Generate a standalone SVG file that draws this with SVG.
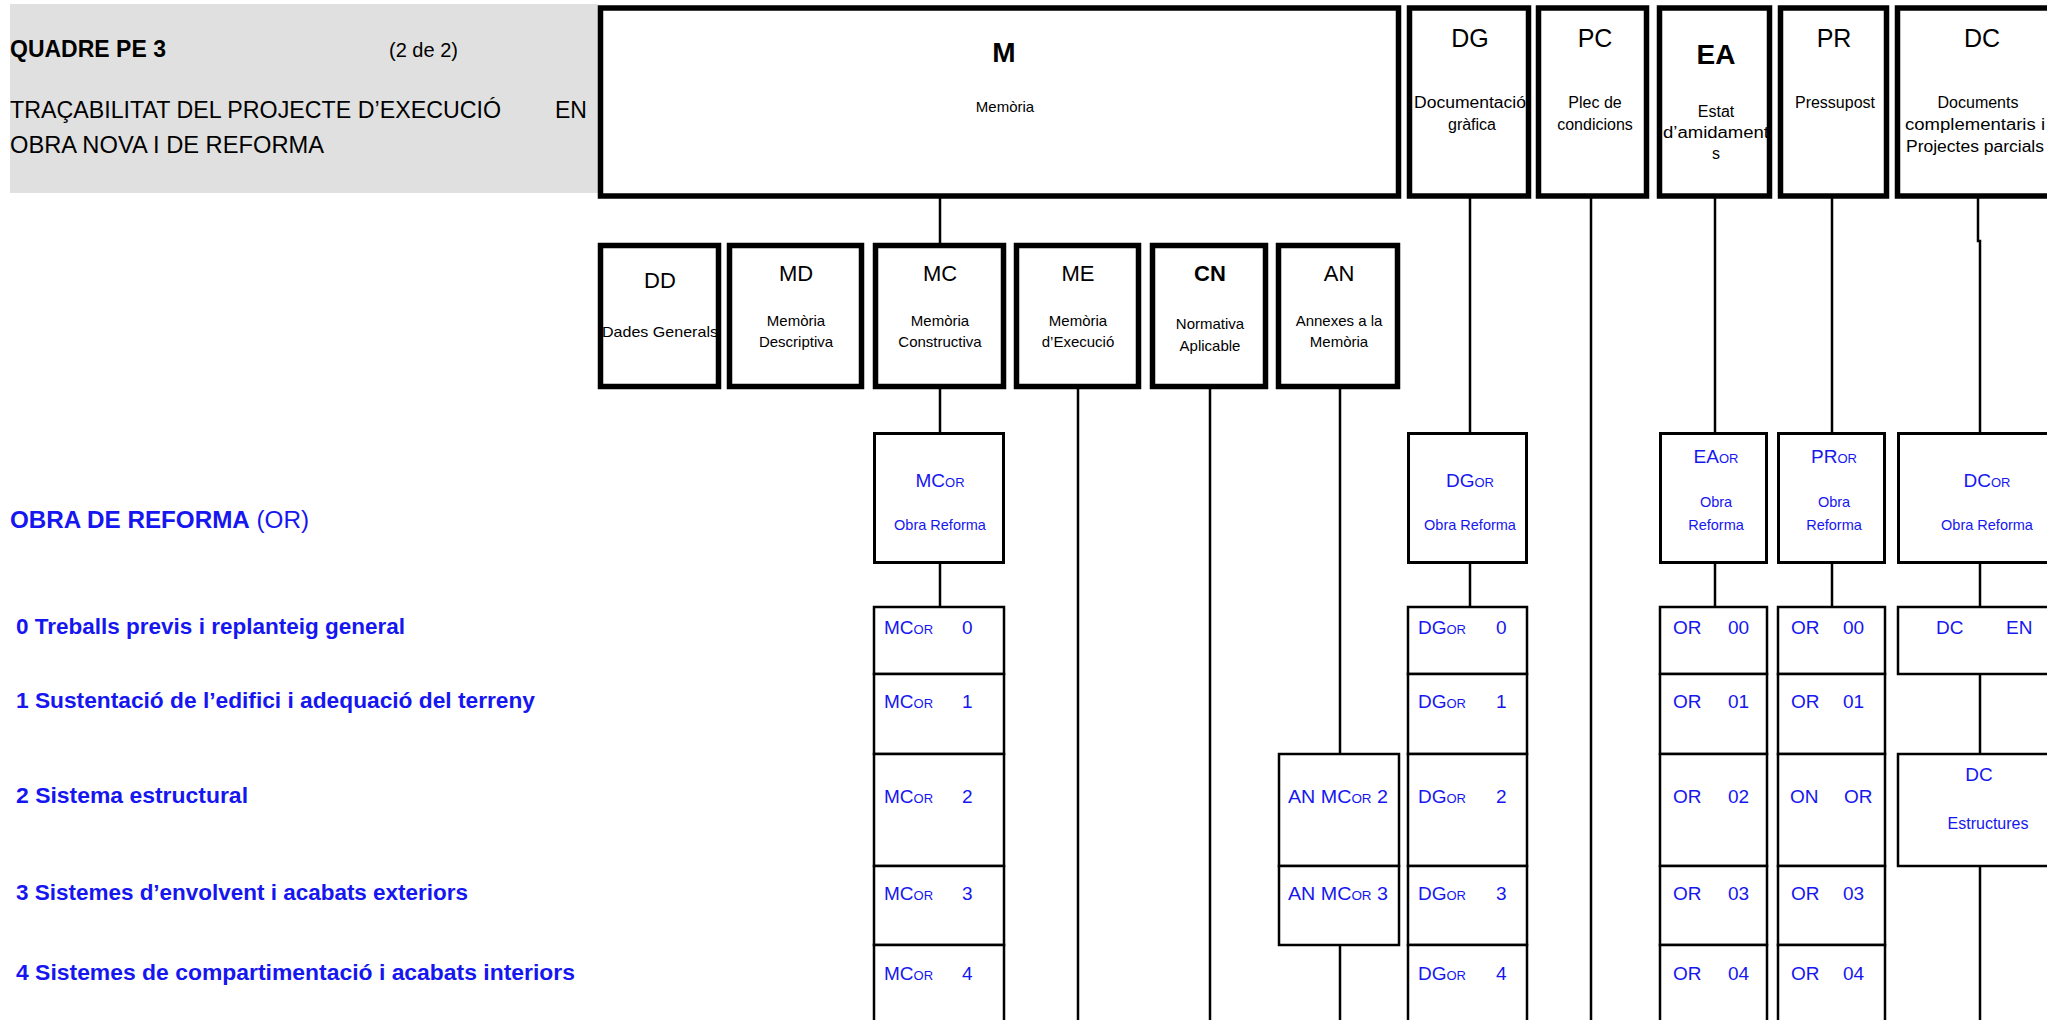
<svg xmlns="http://www.w3.org/2000/svg" width="2047" height="1020" viewBox="0 0 2047 1020">
<style>
text{font-family:"Liberation Sans",Arial,sans-serif}
.hb{fill:#fff;stroke:#000;stroke-width:5.5}
.mb{fill:#fff;stroke:#000;stroke-width:3}
.rb{fill:#fff;stroke:#000;stroke-width:2.5}
.cn{stroke:#000;stroke-width:2.5;fill:none}
.k{fill:#000}
.bl{fill:#1616f0}
.h1{font-size:25px}
.h2{font-size:22px}
.sm{font-size:15px}
.st{font-size:16px}
.m{text-anchor:middle}
.bd{font-weight:bold}
.r18{font-size:19px}
.sub{font-size:13px}
.lab{font-size:22px;font-weight:bold}
</style>
<rect width="2047" height="1020" fill="#fff"/>

<g id="header">
<rect x="10" y="4" width="588" height="189" fill="#e0e0e0"/>
<text class="k bd" x="10" y="57" font-size="23">QUADRE PE 3</text>
<text class="k" x="389" y="57" font-size="20">(2 de 2)</text>
<text class="k" x="10" y="118" font-size="23" textLength="491" lengthAdjust="spacingAndGlyphs">TRAÇABILITAT DEL PROJECTE D’EXECUCIÓ</text>
<text class="k" x="555" y="118" font-size="23">EN</text>
<text class="k" x="10" y="153" font-size="23" textLength="314" lengthAdjust="spacingAndGlyphs">OBRA NOVA I DE REFORMA</text>
</g>

<g id="connectors">
<path class="cn" d="M940 197V243M940 389V432M940 564V607"/>
<path class="cn" d="M1078 389V1020M1210 389V1020M1340 389V754M1340 945V1020"/>
<path class="cn" d="M1470 197V432M1470 564V607"/>
<path class="cn" d="M1591 197V1020"/>
<path class="cn" d="M1715 197V432M1715 564V607"/>
<path class="cn" d="M1832 197V432M1832 564V607"/>
<path class="cn" d="M1978 197V241H1980V432M1980 564V607M1980 674V754M1980 866V1020"/>
</g>

<g id="M"><rect class="hb" x="600.5" y="8" width="798" height="188"/>
<text class="k m bd" x="1004" y="62" font-size="28">M</text>
<text class="k m sm" x="1005" y="112">Memòria</text></g>

<g id="DG"><rect class="hb" x="1409.5" y="8" width="119" height="188"/>
<text class="k m h1" x="1470" y="47">DG</text>
<text class="k m st" x="1470" y="108" textLength="112" lengthAdjust="spacingAndGlyphs">Documentació</text>
<text class="k m st" x="1472" y="130">gràfica</text></g>

<g id="PC"><rect class="hb" x="1538.5" y="8" width="108" height="188"/>
<text class="k m h1" x="1595" y="47">PC</text>
<text class="k m st" x="1595" y="108">Plec de</text>
<text class="k m st" x="1595" y="130">condicions</text></g>

<g id="EA"><rect class="hb" x="1659.5" y="8" width="110" height="188"/>
<text class="k m bd" x="1716" y="64" font-size="28">EA</text>
<text class="k m st" x="1716" y="117">Estat</text>
<text class="k m st" x="1716" y="138" textLength="106" lengthAdjust="spacingAndGlyphs">d’amidament</text>
<text class="k m st" x="1716" y="159">s</text></g>

<g id="PR"><rect class="hb" x="1780.5" y="8" width="106" height="188"/>
<text class="k m h1" x="1834" y="47">PR</text>
<text class="k m st" x="1835" y="108">Pressupost</text></g>

<g id="DC"><rect class="hb" x="1897.5" y="8" width="160" height="188"/>
<text class="k m h1" x="1982" y="47">DC</text>
<text class="k m st" x="1978" y="108">Documents</text>
<text class="k m st" x="1975" y="130" textLength="140" lengthAdjust="spacingAndGlyphs">complementaris  i</text>
<text class="k m st" x="1975" y="152" textLength="138" lengthAdjust="spacingAndGlyphs">Projectes parcials</text></g>

<g id="DD"><rect class="hb" x="600.5" y="245.5" width="118" height="141"/>
<text class="k m h2" x="660" y="288">DD</text>
<text class="k m sm" x="660" y="337" textLength="116" lengthAdjust="spacingAndGlyphs">Dades  Generals</text></g>

<g id="MD"><rect class="hb" x="729.5" y="245.5" width="132" height="141"/>
<text class="k m h2" x="796" y="281">MD</text>
<text class="k m sm" x="796" y="326">Memòria</text>
<text class="k m sm" x="796" y="347">Descriptiva</text></g>

<g id="MC"><rect class="hb" x="875.5" y="245.5" width="128" height="141"/>
<text class="k m h2" x="940" y="281">MC</text>
<text class="k m sm" x="940" y="326">Memòria</text>
<text class="k m sm" x="940" y="347">Constructiva</text></g>

<g id="ME"><rect class="hb" x="1016.5" y="245.5" width="122" height="141"/>
<text class="k m h2" x="1078" y="281">ME</text>
<text class="k m sm" x="1078" y="326">Memòria</text>
<text class="k m sm" x="1078" y="347">d’Execució</text></g>

<g id="CN"><rect class="hb" x="1152.5" y="245.5" width="113" height="141"/>
<text class="k m h2 bd" x="1210" y="281">CN</text>
<text class="k m sm" x="1210" y="329">Normativa</text>
<text class="k m sm" x="1210" y="351">Aplicable</text></g>

<g id="AN"><rect class="hb" x="1278.5" y="245.5" width="119" height="141"/>
<text class="k m h2" x="1339" y="281">AN</text>
<text class="k m sm" x="1339" y="326">Annexes a la</text>
<text class="k m sm" x="1339" y="347">Memòria</text></g>

<g id="OBRA_REFORMA_labels">
<text class="bl" x="10" y="528" font-size="23" textLength="299" lengthAdjust="spacingAndGlyphs"><tspan font-weight="bold">OBRA DE REFORMA</tspan> (OR)</text>
<text class="bl lab" x="16" y="634" textLength="389" lengthAdjust="spacingAndGlyphs">0 Treballs previs i replanteig general</text>
<text class="bl lab" x="16" y="708" textLength="519" lengthAdjust="spacingAndGlyphs">1 Sustentació de l’edifici i adequació del terreny</text>
<text class="bl lab" x="16" y="803" textLength="232" lengthAdjust="spacingAndGlyphs">2 Sistema estructural</text>
<text class="bl lab" x="16" y="900" textLength="452" lengthAdjust="spacingAndGlyphs">3 Sistemes d’envolvent i acabats exteriors</text>
<text class="bl lab" x="16" y="980" textLength="559" lengthAdjust="spacingAndGlyphs">4 Sistemes de compartimentació i acabats interiors</text>
</g>

<g id="MC_OR"><rect class="mb" x="874.5" y="433.5" width="129" height="129"/>
<text class="bl m r18" x="940" y="487">MC<tspan class="sub">OR</tspan></text>
<text class="bl m" x="940" y="530" font-size="14.5">Obra Reforma</text></g>

<g id="DG_OR"><rect class="mb" x="1408.5" y="433.5" width="118" height="129"/>
<text class="bl m r18" x="1470" y="487">DG<tspan class="sub">OR</tspan></text>
<text class="bl m" x="1470" y="530" font-size="14.5">Obra Reforma</text></g>

<g id="EA_OR"><rect class="mb" x="1660.5" y="433.5" width="106" height="129"/>
<text class="bl m r18" x="1716" y="463">EA<tspan class="sub">OR</tspan></text>
<text class="bl m" x="1716" y="507" font-size="14.5">Obra</text>
<text class="bl m" x="1716" y="530" font-size="14.5">Reforma</text></g>

<g id="PR_OR"><rect class="mb" x="1778.5" y="433.5" width="106" height="129"/>
<text class="bl m r18" x="1834" y="463">PR<tspan class="sub">OR</tspan></text>
<text class="bl m" x="1834" y="507" font-size="14.5">Obra</text>
<text class="bl m" x="1834" y="530" font-size="14.5">Reforma</text></g>

<g id="DC_OR"><rect class="mb" x="1898.5" y="433.5" width="160" height="129"/>
<text class="bl m r18" x="1987" y="487">DC<tspan class="sub">OR</tspan></text>
<text class="bl m" x="1987" y="530" font-size="14.5">Obra Reforma</text></g>

<g id="MC_OR_rows">
<rect class="rb" x="874" y="607" width="130" height="67"/>
<rect class="rb" x="874" y="674" width="130" height="80"/>
<rect class="rb" x="874" y="754" width="130" height="112"/>
<rect class="rb" x="874" y="866" width="130" height="79"/>
<rect class="rb" x="874" y="945" width="130" height="90"/>
<text class="bl r18" x="884" y="634">MC<tspan class="sub">OR</tspan></text><text class="bl r18" x="962" y="634">0</text>
<text class="bl r18" x="884" y="708">MC<tspan class="sub">OR</tspan></text><text class="bl r18" x="962" y="708">1</text>
<text class="bl r18" x="884" y="803">MC<tspan class="sub">OR</tspan></text><text class="bl r18" x="962" y="803">2</text>
<text class="bl r18" x="884" y="900">MC<tspan class="sub">OR</tspan></text><text class="bl r18" x="962" y="900">3</text>
<text class="bl r18" x="884" y="980">MC<tspan class="sub">OR</tspan></text><text class="bl r18" x="962" y="980">4</text>
</g>

<g id="AN_MC_OR">
<rect class="rb" x="1279" y="754" width="120" height="112"/>
<rect class="rb" x="1279" y="866" width="120" height="79"/>
<text class="bl r18" x="1288" y="803" textLength="100" lengthAdjust="spacingAndGlyphs">AN MC<tspan class="sub">OR</tspan> 2</text>
<text class="bl r18" x="1288" y="900" textLength="100" lengthAdjust="spacingAndGlyphs">AN MC<tspan class="sub">OR</tspan> 3</text>
</g>

<g id="DG_OR_rows">
<rect class="rb" x="1408" y="607" width="119" height="67"/>
<rect class="rb" x="1408" y="674" width="119" height="80"/>
<rect class="rb" x="1408" y="754" width="119" height="112"/>
<rect class="rb" x="1408" y="866" width="119" height="79"/>
<rect class="rb" x="1408" y="945" width="119" height="90"/>
<text class="bl r18" x="1418" y="634">DG<tspan class="sub">OR</tspan></text><text class="bl r18" x="1496" y="634">0</text>
<text class="bl r18" x="1418" y="708">DG<tspan class="sub">OR</tspan></text><text class="bl r18" x="1496" y="708">1</text>
<text class="bl r18" x="1418" y="803">DG<tspan class="sub">OR</tspan></text><text class="bl r18" x="1496" y="803">2</text>
<text class="bl r18" x="1418" y="900">DG<tspan class="sub">OR</tspan></text><text class="bl r18" x="1496" y="900">3</text>
<text class="bl r18" x="1418" y="980">DG<tspan class="sub">OR</tspan></text><text class="bl r18" x="1496" y="980">4</text>
</g>

<g id="EA_OR_rows">
<rect class="rb" x="1660" y="607" width="107" height="67"/>
<rect class="rb" x="1660" y="674" width="107" height="80"/>
<rect class="rb" x="1660" y="754" width="107" height="112"/>
<rect class="rb" x="1660" y="866" width="107" height="79"/>
<rect class="rb" x="1660" y="945" width="107" height="90"/>
<text class="bl r18" x="1673" y="634">OR</text><text class="bl r18" x="1728" y="634">00</text>
<text class="bl r18" x="1673" y="708">OR</text><text class="bl r18" x="1728" y="708">01</text>
<text class="bl r18" x="1673" y="803">OR</text><text class="bl r18" x="1728" y="803">02</text>
<text class="bl r18" x="1673" y="900">OR</text><text class="bl r18" x="1728" y="900">03</text>
<text class="bl r18" x="1673" y="980">OR</text><text class="bl r18" x="1728" y="980">04</text>
</g>

<g id="PR_OR_rows">
<rect class="rb" x="1778" y="607" width="107" height="67"/>
<rect class="rb" x="1778" y="674" width="107" height="80"/>
<rect class="rb" x="1778" y="754" width="107" height="112"/>
<rect class="rb" x="1778" y="866" width="107" height="79"/>
<rect class="rb" x="1778" y="945" width="107" height="90"/>
<text class="bl r18" x="1791" y="634">OR</text><text class="bl r18" x="1843" y="634">00</text>
<text class="bl r18" x="1791" y="708">OR</text><text class="bl r18" x="1843" y="708">01</text>
<text class="bl r18" x="1790" y="803">ON</text><text class="bl r18" x="1844" y="803">OR</text>
<text class="bl r18" x="1791" y="900">OR</text><text class="bl r18" x="1843" y="900">03</text>
<text class="bl r18" x="1791" y="980">OR</text><text class="bl r18" x="1843" y="980">04</text>
</g>

<g id="DC_EN"><rect class="rb" x="1898" y="607" width="160" height="67"/>
<text class="bl r18" x="1936" y="634">DC</text><text class="bl r18" x="2006" y="634">EN</text></g>

<g id="DC_Estructures"><rect class="rb" x="1898" y="754" width="160" height="112"/>
<text class="bl m r18" x="1979" y="781">DC</text>
<text class="bl m" x="1988" y="829" font-size="16">Estructures</text></g>
</svg>
